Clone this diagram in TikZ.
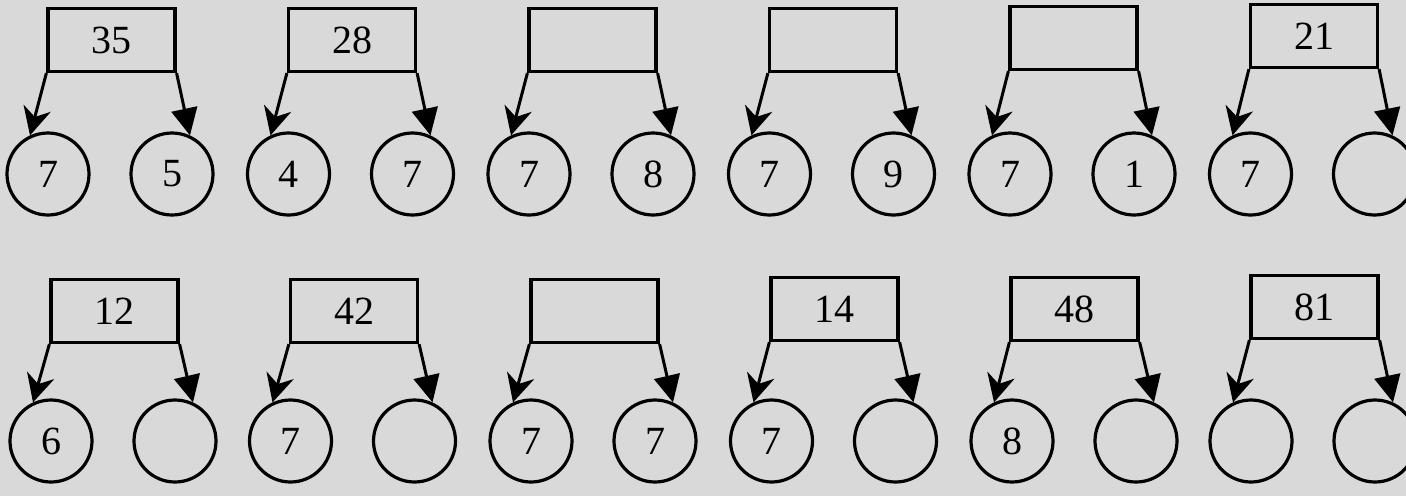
\documentclass[tikz,border=0pt]{standalone}
\usepackage{fontspec}
\setmainfont{Liberation Serif}
\usetikzlibrary{arrows.meta}
\definecolor{paper}{RGB}{217,217,217}

\begin{document}
\begin{tikzpicture}
  [x=1pt,y=-1pt,font=\fontsize{40}{44}\selectfont,
   prod box/.style={rectangle,draw,line width=3.2pt,minimum width=127pt,minimum height=63pt,inner sep=0pt},
   fact node/.style={circle,draw,line width=3.2pt,minimum size=82pt,inner sep=0pt},
   left arr/.style={line width=3pt,-{Stealth[length=28pt,width=28pt,inset=9pt]}},
   right arr/.style={line width=3pt,-{Triangle[length=27pt,width=26pt]}}]
  \fill[paper] (0,0) rectangle (1406,496);
  \useasboundingbox (0,0) rectangle (1406,496);

  % top row
\node[prod box] (b1) at (111.5,40) {35};
\node[fact node] (l1) at (48,174) {7};
\node[fact node] (r1) at (172,174) {5};
\node[prod box] (b2) at (352,40) {28};
\node[fact node] (l2) at (288.5,174) {4};
\node[fact node] (r2) at (412.5,174) {7};
\node[prod box] (b3) at (592.5,40) {};
\node[fact node] (l3) at (529,174) {7};
\node[fact node] (r3) at (653,174) {8};
\node[prod box] (b4) at (833,40) {};
\node[fact node] (l4) at (769.5,174) {7};
\node[fact node] (r4) at (893.5,174) {9};
\node[prod box] (b5) at (1073.5,38) {};
\node[fact node] (l5) at (1010,174) {7};
\node[fact node] (r5) at (1134,174) {1};
\node[prod box] (b6) at (1314,36) {21};
\node[fact node] (l6) at (1250.5,174) {7};
\node[fact node] (r6) at (1374.5,174) {};

  % bottom row
\node[prod box] (b7) at (114.5,311) {12};
\node[fact node] (l7) at (51,441) {6};
\node[fact node] (r7) at (175,441) {};
\node[prod box] (b8) at (354,311) {42};
\node[fact node] (l8) at (290.5,441) {7};
\node[fact node] (r8) at (414.5,441) {};
\node[prod box] (b9) at (594.5,311) {};
\node[fact node] (l9) at (531,441) {7};
\node[fact node] (r9) at (655,441) {7};
\node[prod box] (b10) at (834.5,309) {14};
\node[fact node] (l10) at (771.5,441) {7};
\node[fact node] (r10) at (895.5,441) {};
\node[prod box] (b11) at (1074.5,309) {48};
\node[fact node] (l11) at (1012,441) {8};
\node[fact node] (r11) at (1136,441) {};
\node[prod box] (b12) at (1314.5,307) {81};
\node[fact node] (l12) at (1251,441) {};
\node[fact node] (r12) at (1375,441) {};

  \draw[left arr] (b1.south west) -- (l1.115);
  \draw[right arr] (b1.south east) -- (r1.65);
  \draw[left arr] (b2.south west) -- (l2.115);
  \draw[right arr] (b2.south east) -- (r2.65);
  \draw[left arr] (b3.south west) -- (l3.115);
  \draw[right arr] (b3.south east) -- (r3.65);
  \draw[left arr] (b4.south west) -- (l4.115);
  \draw[right arr] (b4.south east) -- (r4.65);
  \draw[left arr] (b5.south west) -- (l5.115);
  \draw[right arr] (b5.south east) -- (r5.65);
  \draw[left arr] (b6.south west) -- (l6.115);
  \draw[right arr] (b6.south east) -- (r6.65);
  \draw[left arr] (b7.south west) -- (l7.115);
  \draw[right arr] (b7.south east) -- (r7.65);
  \draw[left arr] (b8.south west) -- (l8.115);
  \draw[right arr] (b8.south east) -- (r8.65);
  \draw[left arr] (b9.south west) -- (l9.115);
  \draw[right arr] (b9.south east) -- (r9.65);
  \draw[left arr] (b10.south west) -- (l10.115);
  \draw[right arr] (b10.south east) -- (r10.65);
  \draw[left arr] (b11.south west) -- (l11.115);
  \draw[right arr] (b11.south east) -- (r11.65);
  \draw[left arr] (b12.south west) -- (l12.115);
  \draw[right arr] (b12.south east) -- (r12.65);

\end{tikzpicture}
\end{document}
